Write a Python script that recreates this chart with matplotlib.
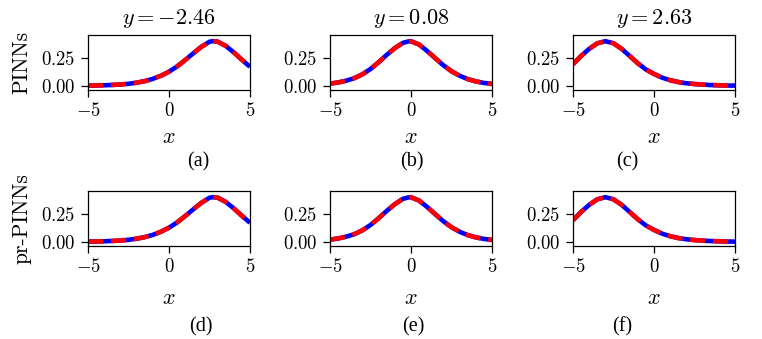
import matplotlib
matplotlib.use("Agg")
import matplotlib.pyplot as plt
import numpy as np

plt.rcParams.update({
    "font.family": "serif",
    "font.serif": ["cmr10", "DejaVu Serif"],
    "mathtext.fontset": "cm",
    "axes.formatter.use_mathtext": True,
    "font.size": 13,
})

y_values = [-2.46, 0.08, 2.63]
row_labels = ["PINNs", "pr-PINNs"]
captions = [["(a)", "(b)", "(c)"], ["(d)", "(e)", "(f)"]]
x_ticks = [-5, 0, 5]
x_tick_labels = ["$-5$", "$0$", "$5$"]
y_ticks = [0.0, 0.25]
y_tick_labels = ["$0.00$", "$0.25$"]

x_a = [-5, -4.5, -4, -3.5, -3, -2.5, -2, -1.5, -1, -0.5, 0, 0.5, 1, 1.5, 2, 2.5, 2.7, 3, 3.5, 4, 4.5, 5]
u_a = [0.004, 0.005, 0.007, 0.010, 0.014, 0.020, 0.030, 0.044, 0.064, 0.092, 0.128, 0.175, 0.232, 0.292,
       0.350, 0.395, 0.400, 0.396, 0.358, 0.300, 0.234, 0.172]

x_b = [-5, -4.5, -4, -3.5, -3, -2.5, -2, -1.5, -1, -0.5, -0.1, 0, 0.5, 1, 1.5, 2, 2.5, 3, 3.5, 4, 4.5, 5]
u_b = [0.022, 0.032, 0.048, 0.070, 0.105, 0.152, 0.212, 0.278, 0.338, 0.385, 0.400, 0.399, 0.370, 0.312,
       0.248, 0.185, 0.132, 0.092, 0.062, 0.042, 0.028, 0.019]

x_c = [-5, -4.5, -4, -3.5, -3, -2.5, -2, -1.5, -1, -0.5, 0, 0.5, 1, 1.5, 2, 2.5, 3, 3.5, 4, 4.5, 5]
u_c = [0.195, 0.268, 0.332, 0.381, 0.400, 0.381, 0.332, 0.268, 0.203, 0.148, 0.108, 0.075, 0.052, 0.036,
       0.025, 0.018, 0.013, 0.009, 0.007, 0.005, 0.004]

exact_x = [x_a, x_b, x_c]
exact_u = [u_a, u_b, u_c]
# predictions (visually indistinguishable from the exact solution)
pinn_u = [u_a, u_b, u_c]
prpinn_u = [u_a, u_b, u_c]
pred_u = [pinn_u, prpinn_u]

W, H = 762, 339
fig = plt.figure(figsize=(W / 100, H / 100), dpi=100)

lefts = [88, 330, 573]
width = 162
tops = [35, 191]
height = 55
cap_x = [[198, 412, 627], [201, 413, 622]]
cap_y = [162, 327]
xlab_y = [137, 298]

for r in range(2):
    for c in range(3):
        ax = fig.add_axes([lefts[c] / W, 1 - (tops[r] + height) / H, width / W, height / H])
        ax.plot(exact_x[c], exact_u[c], color="blue", lw=3.3, solid_capstyle="butt",
                solid_joinstyle="round")
        ax.plot(exact_x[c], pred_u[r][c], color="red", lw=3.3, dashes=(3.3, 1.7),
                dash_joinstyle="round")
        ax.set_xlim(-5, 5)
        ax.set_ylim(-0.035, 0.455)
        ax.set_xticks(x_ticks)
        ax.set_xticklabels(x_tick_labels)
        ax.set_yticks(y_ticks)
        ax.set_yticklabels(y_tick_labels)
        ax.tick_params(direction="out", length=5, width=0.9, pad=4, labelsize=13.5)
        for s in ax.spines.values():
            s.set_linewidth(0.9)
        ax.set_xlabel("$x$", fontsize=16)
        ax.xaxis.label.set_va("center")
        ax.xaxis.set_label_coords(0.5, (tops[r] + height - xlab_y[r]) / height)
        if r == 0:
            ax.text(0.5, 1 + (35 - 18) / height, f"$y = {y_values[c]:.2f}$", fontsize=16,
                    ha="center", va="center", transform=ax.transAxes)
        if c == 0:
            ax.set_ylabel(row_labels[r], fontsize=15.5, family="cmr10")
            ax.yaxis.label.set_va("center")
            ax.yaxis.set_label_coords((22 - 88) / width, 0.5)
        fig.text(cap_x[r][c] / W, 1 - cap_y[r] / H, captions[r][c], ha="center", va="center",
                 fontsize=14.5, family="Liberation Serif")

fig.savefig("out.png", dpi=100)
